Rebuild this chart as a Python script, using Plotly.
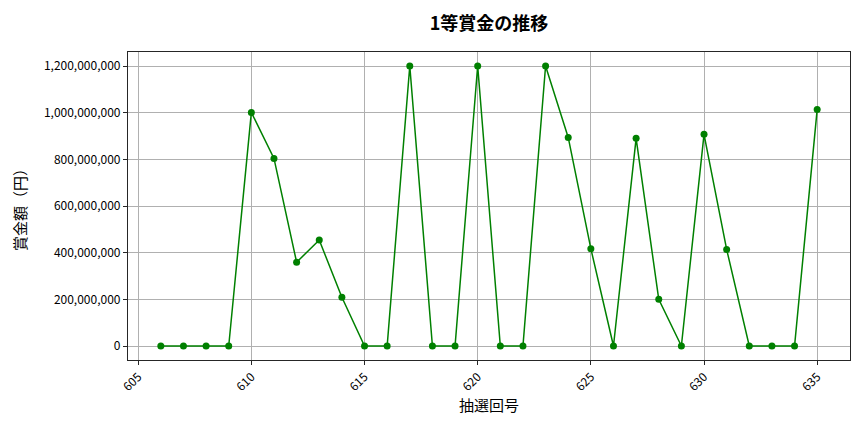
import plotly.graph_objects as go

# 抽選回号と1等賞金 (円)
draws = list(range(606, 636))
prize = [0, 0, 0, 0,
         1001000000, 804000000, 359000000, 454000000, 209000000,
         0, 0, 1200000000, 0, 0, 1200000000, 0, 0, 1200000000,
         894000000, 417000000, 0, 890000000, 200000000, 0,
         907000000, 414000000, 0, 0, 0, 1014000000]

x_ticks = [605, 610, 615, 620, 625, 630, 635]
y_ticks = [0, 200000000, 400000000, 600000000, 800000000, 1000000000, 1200000000]

font = "Noto Sans CJK JP"

fig = go.Figure(data=go.Scatter(
    x=draws, y=prize, mode="lines+markers",
    line=dict(color="green", width=1.5),
    marker=dict(color="green", size=7),
))

axis_common = dict(
    showline=True, mirror=True, linecolor="#262626", linewidth=1.2,
    showgrid=True, gridcolor="#b0b0b0", gridwidth=0.8,
    ticks="outside", ticklen=4, tickcolor="#262626",
    zeroline=False, tickfont=dict(family=font, size=12, color="black"),
)

# page body has an 8px margin, so the figure is a bit smaller than the window
W, H = 856, 424
fig.update_layout(
    width=W, height=H,
    margin=dict(l=120, r=14, t=44, b=72),
    plot_bgcolor="white", paper_bgcolor="white",
    font=dict(family=font, color="black"),
    showlegend=False,
    title=dict(text="<b>1等賞金の推移</b>", x=(120 + 842) / 2 / W, xanchor="center",
               y=1 - 16 / H, yanchor="middle", font=dict(family=font, size=18)),
)
fig.update_xaxes(axis_common, range=[604.55, 636.45], tickvals=x_ticks, tickangle=-45,
                 title=dict(text="抽選回号", font=dict(family=font, size=15), standoff=7))
fig.update_yaxes(axis_common, range=[-60000000, 1260000000], tickvals=y_ticks,
                 tickformat=",d",
                 title=dict(text="賞金額（円）", font=dict(family=font, size=15), standoff=13))

fig.write_html("out.html")
